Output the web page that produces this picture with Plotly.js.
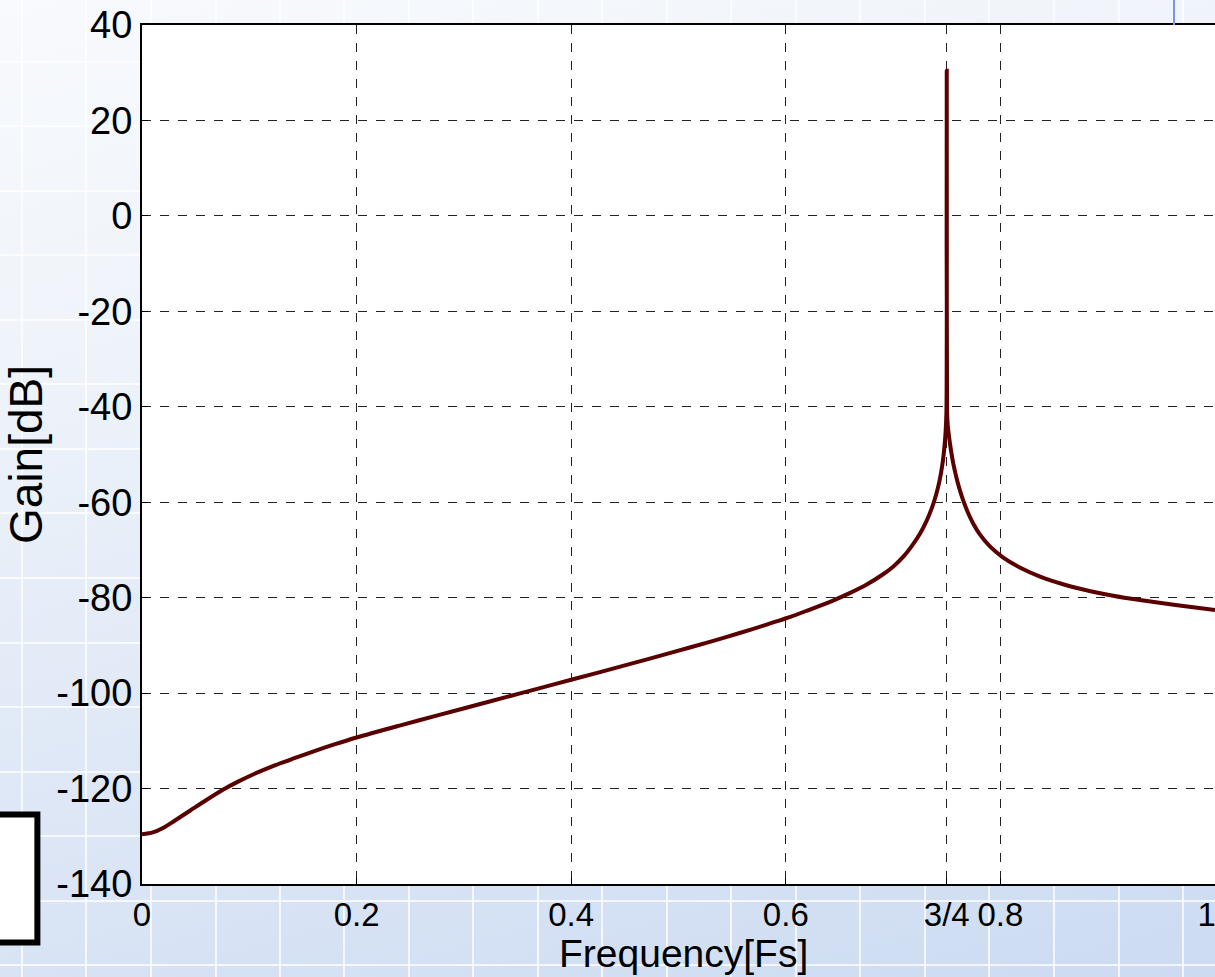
<!DOCTYPE html>
<html>
<head>
<meta charset="utf-8">
<script src="https://cdn.plot.ly/plotly-3.0.1.min.js"></script>
<style>
  html, body { margin: 0; padding: 0; }
  body {
    width: 1215px; height: 977px; overflow: hidden;
    background:
      repeating-linear-gradient(to right, transparent 0px, transparent 21px, rgba(255,255,255,0.75) 21px, rgba(255,255,255,0.75) 23px, transparent 23px, transparent 64.5px),
      repeating-linear-gradient(to bottom, transparent 0px, transparent 61px, rgba(255,255,255,0.75) 61px, rgba(255,255,255,0.75) 63px, transparent 63px, transparent 64.5px),
      linear-gradient(165deg, #f8fafd 0%, #eef3fa 30%, #dfe8f6 60%, #ccdbf2 100%);
  }
  #chart { width: 1215px; height: 977px; }
</style>
</head>
<body>
<div id="chart"></div>
<script>
// Normalised frequency (Fs) and gain (dB)
const freq = [0, 0.01, 0.02, 0.03, 0.045, 0.06, 0.075, 0.09, 0.105, 0.122, 0.14, 0.16, 0.18, 0.2,
              0.24, 0.278, 0.31, 0.34, 0.37, 0.4, 0.45, 0.495, 0.53, 0.557, 0.58, 0.602, 0.62,
              0.644, 0.66, 0.675, 0.69, 0.7, 0.71, 0.718, 0.725, 0.731, 0.736, 0.74, 0.743,
              0.746, 0.748, 0.749, 0.7497, 0.75, 0.7503, 0.751, 0.752, 0.754, 0.756, 0.759,
              0.762, 0.765, 0.77, 0.775, 0.781, 0.79, 0.802, 0.82, 0.837, 0.86, 0.883, 0.905,
              0.93, 0.965, 1.0];
const gain = [-129.6, -129.2, -128.2, -126.8, -124.6, -122.4, -120.3, -118.5, -116.9, -115.3, -113.8, -112.2, -110.7, -109.3,
              -106.8, -104.5, -102.6, -100.8, -99.0, -97.2, -94.2, -91.4, -89.2, -87.4, -85.8, -84.2, -82.7,
              -80.6, -79.0, -77.3, -75.2, -73.5, -71.3, -69.0, -66.6, -64.0, -61.3, -58.5, -55.8,
              -52.0, -48.0, -45.0, -41.0, 30.4, -41.0, -44.0, -46.0, -49.2, -51.8, -54.8,
              -57.3, -59.4, -62.3, -64.6, -66.8, -69.2, -71.5, -73.9, -75.6, -77.3, -78.6, -79.6,
              -80.5, -81.6, -82.6];

const xTickVals = [0, 0.2, 0.4, 0.6, 0.75, 0.8, 1];
const xTickText = ['0', '0.2', '0.4', '0.6', '3/4', '0.8', '1\u2002'];
const yTickVals = [40, 20, 0, -20, -40, -60, -80, -100, -120, -140];
const yTickText = ['40', '20', '0', '-20', '-40', '-60', '-80', '-100', '-120', '-140'];
const xTitle = 'Frequency[Fs]';
const yTitle = 'Gain[dB]';

const FONT = '"Liberation Sans", Arial, Helvetica, sans-serif';

const trace = {
  x: freq, y: gain, type: 'scatter', mode: 'lines',
  line: { color: '#5a0000', width: 4, shape: 'spline', smoothing: 0.8 },
  hoverinfo: 'x+y'
};

const layout = {
  width: 1215, height: 977,
  margin: { l: 142, r: 0, t: 25, b: 93, pad: 0 },
  paper_bgcolor: 'rgba(0,0,0,0)',
  plot_bgcolor: '#ffffff',
  showlegend: false,
  font: { family: FONT, color: '#000' },
  xaxis: {
    range: [0, 1],
    tickvals: xTickVals, ticktext: xTickText,
    tickangle: 0,
    ticklabeloverflow: 'allow',
    tickfont: { family: FONT, size: 33, color: '#000' },
    ticks: 'inside', ticklen: 6, tickcolor: '#000',
    showgrid: true, gridcolor: '#222', griddash: 'dash', gridwidth: 1,
    showline: true, linecolor: '#000', linewidth: 2, mirror: true,
    zeroline: false
  },
  yaxis: {
    range: [-140, 40],
    tickvals: yTickVals, ticktext: yTickText,
    tickfont: { family: FONT, size: 38, color: '#000' },
    ticks: 'inside', ticklen: 6, tickcolor: '#000',
    showgrid: true, gridcolor: '#222', griddash: 'dash', gridwidth: 1,
    showline: true, linecolor: '#000', linewidth: 2, mirror: true,
    zeroline: false,
    title: { text: yTitle, font: { family: FONT, size: 46, color: '#000' }, standoff: 6 }
  },
  annotations: [
    { text: xTitle, xref: 'paper', yref: 'paper', x: 0.505, y: -0.1071,
      xanchor: 'center', yanchor: 'bottom', showarrow: false, borderpad: 0,
      font: { family: FONT, size: 39, color: '#000' } }
  ],
  shapes: [
    { type: 'rect', xref: 'paper', yref: 'paper',
      x0: -0.14, x1: -0.0975, y0: -0.068, y1: 0.081,
      fillcolor: '#ffffff', line: { color: '#000', width: 6 }, layer: 'above' },
    { type: 'line', xref: 'paper', yref: 'paper',
      x0: 0.9618, x1: 0.9618, y0: 1.0, y1: 1.03,
      line: { color: '#7b93e8', width: 2 } }
  ]
};

Plotly.newPlot('chart', [trace], layout, { displayModeBar: false, staticPlot: true });
</script>
</body>
</html>
